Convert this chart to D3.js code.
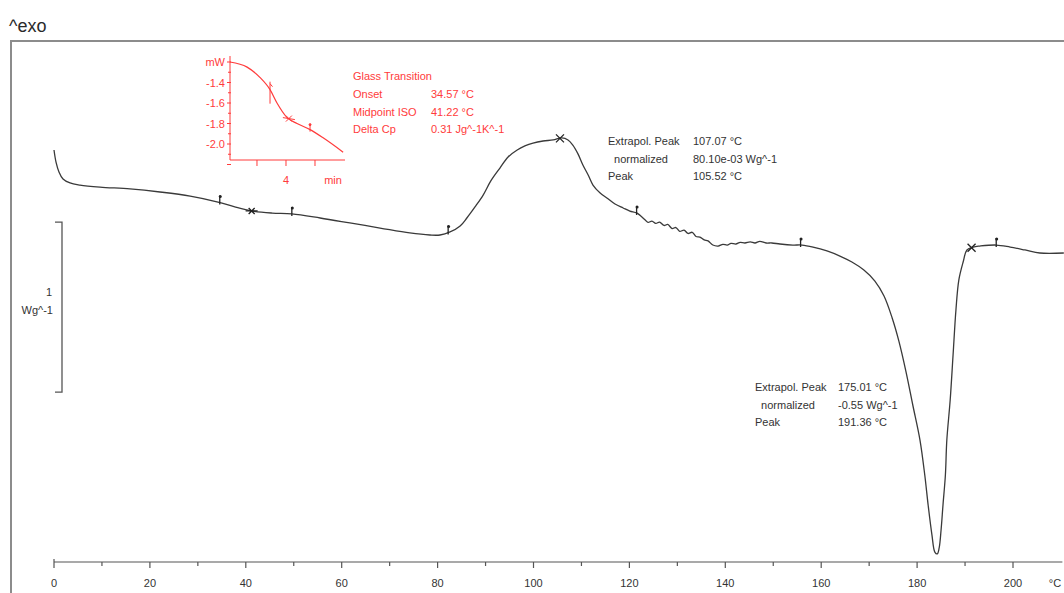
<!DOCTYPE html>
<html>
<head>
<meta charset="utf-8">
<script src="https://cdn.jsdelivr.net/npm/d3@7"></script>
<style>
  html, body { margin: 0; padding: 0; background: #fff; }
  svg { display: block; font-family: "Liberation Sans", Arial, sans-serif; }
</style>
</head>
<body>
<svg id="chart" width="1064" height="593"></svg>
<script>
// DSC heating curve: temperature (°C) vs normalized heat flow (W/g), exo up
const tempC = [0, 0.42, 1.04, 1.88, 3.34, 5.42, 9.59, 15.85, 22.1, 28.4, 34.2, 37.7, 41.3, 45.5, 49.6,
  55.5, 61.7, 68.0, 74.2, 78.4, 80.5, 82.6, 84.7, 86.1, 87.8, 89.5, 91.1, 93.0, 94.7, 96.6, 98.2,
  99.9, 102.0, 104.1, 105.9, 107.2, 108.2, 109.3, 110.3, 111.4, 112.4, 113.9, 115.3, 117.0, 118.7,
  120.1, 121.6, 123.3, 123.9, 124.7, 125.5, 126.3, 127.2, 128.0, 128.9, 129.7, 130.5, 131.4, 132.2,
  133.1, 133.9, 134.7, 135.6, 136.4, 137.4, 138.5, 139.5, 140.4, 141.2, 142.2, 143.1, 144.1, 145.2,
  146.2, 147.2, 148.5, 149.7, 151.4, 154.1, 156.0, 158.3, 161.2, 163.9, 166.4, 168.9, 171.2, 173.1,
  174.8, 176.2, 177.7, 179.1, 180.6, 181.6, 182.3, 183.1, 183.7, 184.2, 184.6, 185.0, 185.4, 185.9,
  186.2, 186.9, 187.5, 188.1, 188.7, 189.6, 190.4, 191.7, 193.1, 196.5, 199.4, 202.5, 205.6, 210.6];
const heatFlow = [0, -0.071, -0.129, -0.171, -0.194, -0.206, -0.218, -0.229, -0.247, -0.271, -0.306, -0.335, -0.359, -0.371, -0.376,
  -0.400, -0.429, -0.459, -0.488, -0.500, -0.500, -0.482, -0.447, -0.400, -0.335, -0.265, -0.182, -0.106, -0.041, 0, 0.024,
  0.041, 0.053, 0.059, 0.071, 0.059, 0.029, -0.024, -0.088, -0.147, -0.206, -0.253, -0.282, -0.318, -0.341,
  -0.359, -0.371, -0.412, -0.426, -0.418, -0.432, -0.424, -0.444, -0.438, -0.462, -0.456, -0.479, -0.471, -0.491,
  -0.484, -0.509, -0.512, -0.529, -0.535, -0.559, -0.565, -0.555, -0.559, -0.549, -0.553, -0.543, -0.547, -0.541,
  -0.547, -0.537, -0.547, -0.547, -0.553, -0.559, -0.559, -0.571, -0.594, -0.624, -0.659, -0.706, -0.771, -0.859,
  -0.988, -1.124, -1.306, -1.500, -1.706, -1.912, -2.088, -2.265, -2.365, -2.376, -2.341, -2.235, -2.088, -1.912,
  -1.706, -1.471, -1.206, -0.941, -0.765, -0.659, -0.588, -0.571, -0.565, -0.559, -0.571, -0.588, -0.606, -0.606];

// Evaluation limit flags and peak crosses on the main curve (°C)
const flagTemps = [34.57, 49.6, 82.2, 121.5, 155.7, 196.5];
const crossTemps = [41.22, 105.52, 191.36];

// Temperature axis
const xTickValues = d3.range(0, 210, 10);
const xTickLabels = [0, 20, 40, 60, 80, 100, 120, 140, 160, 180, 200];

// Glass transition inset: time (min) vs heat flow (mW)
const insetTime = [2.07, 2.66, 3.10, 3.45, 3.69, 4.03, 4.38, 4.83, 5.28, 5.97];
const insetFlow = [-1.20, -1.25, -1.35, -1.47, -1.60, -1.74, -1.80, -1.86, -1.94, -2.08];
const insetYTicks = [-1.4, -1.6, -1.8, -2.0];
const insetXTicks = [3, 4, 5];
const insetOnset = 3.45, insetMid = 4.1, insetEnd = 4.83;

// Result tables
const glassRows = [["Onset", "34.57 °C"], ["Midpoint ISO", "41.22 °C"], ["Delta Cp", "0.31 Jg^-1K^-1"]];
const peak1Rows = [["Extrapol. Peak", "107.07 °C"], ["  normalized", "80.10e-03 Wg^-1"], ["Peak", "105.52 °C"]];
const peak2Rows = [["Extrapol. Peak", "175.01 °C"], ["  normalized", "-0.55 Wg^-1"], ["Peak", "191.36 °C"]];

const svg = d3.select("#chart");
const ink = "#3a3a3a";
const red = "#ff3b3b";

const x = d3.scaleLinear().domain([0, 200]).range([54, 1013]);
// 1 W/g spans 170 px
const y = d3.scaleLinear().domain([0, -1]).range([150, 320]);

// Frame
svg.append("path")
  .attr("d", "M11,593 V41 H1064")
  .attr("fill", "none").attr("stroke", "#8c8c8c").attr("stroke-width", 2);

svg.append("text").attr("x", 9).attr("y", 32)
  .attr("font-size", 18).attr("fill", "#2a2a2a").text("^exo");

// Temperature axis
const axisY = 562;
const axis = svg.append("g").attr("transform", `translate(0,${axisY})`);
axis.append("line").attr("x1", x(0)).attr("x2", x(210.3))
  .attr("stroke", "#555").attr("stroke-width", 1.2);
axis.selectAll("line.tick").data(xTickValues).join("line")
  .attr("class", "tick")
  .attr("x1", d => x(d)).attr("x2", d => x(d))
  .attr("y1", d => d === 0 ? -3 : 0).attr("y2", d => d % 20 === 0 ? 6 : 4)
  .attr("stroke", "#555").attr("stroke-width", 1.2);
axis.selectAll("text.lbl").data(xTickLabels).join("text")
  .attr("class", "lbl")
  .attr("x", d => x(d)).attr("y", 25)
  .attr("text-anchor", "middle").attr("font-size", 11).attr("fill", "#333")
  .text(d => d);
axis.append("text").attr("x", 1055).attr("y", 25)
  .attr("text-anchor", "middle").attr("font-size", 11).attr("fill", "#333").text("°C");

// Scale bar: 1 W/g
const barTop = y(-0.424), barBot = y(-1.424);
svg.append("path")
  .attr("d", `M55,${barTop} H62 V${barBot} H55`)
  .attr("fill", "none").attr("stroke", "#555").attr("stroke-width", 1.3);
svg.append("text").attr("x", 52).attr("y", 296).attr("text-anchor", "end")
  .attr("font-size", 11).attr("fill", "#333").text("1");
svg.append("text").attr("x", 53).attr("y", 314).attr("text-anchor", "end")
  .attr("font-size", 11).attr("fill", "#333").text("Wg^-1");

// Main curve
const pts = tempC.map((t, i) => [t, heatFlow[i]]);
svg.append("path")
  .datum(pts)
  .attr("fill", "none").attr("stroke", ink).attr("stroke-width", 1.3)
  .attr("d", d3.line().x(d => x(d[0])).y(d => y(d[1])).curve(d3.curveCatmullRom.alpha(0.5)));

const flowAt = t => {
  const i = d3.bisectLeft(tempC, t);
  if (i <= 0) return heatFlow[0];
  if (i >= tempC.length) return heatFlow[heatFlow.length - 1];
  const f = (t - tempC[i - 1]) / (tempC[i] - tempC[i - 1]);
  return heatFlow[i - 1] + f * (heatFlow[i] - heatFlow[i - 1]);
};

const marks = svg.append("g").attr("stroke", "#222").attr("stroke-width", 1.3).attr("fill", "#222");
flagTemps.forEach(t => {
  const px = x(t), py = y(flowAt(t));
  marks.append("line").attr("x1", px).attr("x2", px).attr("y1", py + 2).attr("y2", py - 7);
  marks.append("circle").attr("cx", px + 0.5).attr("cy", py - 6).attr("r", 1.5).attr("stroke", "none");
});
crossTemps.forEach((t, i) => {
  const px = x(t), py = y(flowAt(t));
  const s = i === 0 ? 3 : 4;
  marks.append("path")
    .attr("d", `M${px - s},${py - s}L${px + s},${py + s}M${px - s},${py + s}L${px + s},${py - s}` +
      (i === 0 ? `M${px - 6},${py}H${px + 6}` : ""))
    .attr("fill", "none");
});

// Result tables
function table(rows, x0, x1, y0, color, title) {
  const g = svg.append("g").attr("font-size", 11).attr("fill", color);
  let yy = y0;
  if (title) {
    g.append("text").attr("x", x0).attr("y", yy).text(title);
    yy += 18;
  }
  rows.forEach(r => {
    g.append("text").attr("x", x0).attr("y", yy).attr("xml:space", "preserve").text(r[0]);
    g.append("text").attr("x", x1).attr("y", yy).text(r[1]);
    yy += 17.5;
  });
}
table(peak1Rows, 608, 693, 145, "#333");
table(peak2Rows, 755, 838, 391, "#333");
table(glassRows, 353, 431, 80, red, "Glass Transition");

// Glass transition inset
const ix = d3.scaleLinear().domain([2.07, 6.0]).range([230, 344]);
const iy = d3.scaleLinear().domain([-1.2, -2.0]).range([62, 144]);
const inset = svg.append("g").attr("stroke", red).attr("fill", "none").attr("stroke-width", 1);
inset.append("path").attr("d", `M230,56 V160 H345`);
d3.range(-1.2, -2.21, -0.1).forEach((v, i) => {
  const w = i % 2 === 0 ? 3 : 2;
  inset.append("line").attr("x1", 230 - w).attr("x2", 230 + 1).attr("y1", iy(v)).attr("y2", iy(v));
});
insetXTicks.forEach(t => {
  inset.append("line").attr("x1", ix(t)).attr("x2", ix(t)).attr("y1", 160).attr("y2", 166);
});
const il = svg.append("g").attr("fill", red).attr("font-size", 11);
il.append("text").attr("x", 225).attr("y", iy(-1.2) + 4).attr("text-anchor", "end").text("mW");
insetYTicks.forEach(v => {
  il.append("text").attr("x", 225).attr("y", iy(v) + 4).attr("text-anchor", "end").text(v.toFixed(1));
});
il.append("text").attr("x", ix(4)).attr("y", 184).attr("text-anchor", "middle").text("4");
il.append("text").attr("x", 333).attr("y", 184).attr("text-anchor", "middle").text("min");

const ipts = insetTime.map((t, i) => [t, insetFlow[i]]);
inset.append("path").datum(ipts).attr("stroke-width", 1.2)
  .attr("d", d3.line().x(d => ix(d[0])).y(d => iy(d[1])).curve(d3.curveMonotoneX));
const iflow = t => {
  const i = Math.max(1, d3.bisectLeft(insetTime, t));
  const f = (t - insetTime[i - 1]) / (insetTime[i] - insetTime[i - 1]);
  return insetFlow[i - 1] + f * (insetFlow[i] - insetFlow[i - 1]);
};
{
  const px = ix(insetOnset), py = iy(iflow(insetOnset));
  inset.append("line").attr("x1", px).attr("x2", px).attr("y1", py - 8).attr("y2", py + 14);
  inset.append("line").attr("x1", px).attr("x2", px + 2.5).attr("y1", py - 6).attr("y2", py - 3);
}
{
  const px = ix(insetMid), py = iy(iflow(insetMid));
  inset.append("path").attr("d", `M${px - 3},${py - 3}L${px + 3},${py + 3}M${px - 3},${py + 3}L${px + 3},${py - 3}M${px - 6},${py - 1}L${px + 6},${py + 1}`);
}
{
  const px = ix(insetEnd), py = iy(iflow(insetEnd));
  inset.append("line").attr("x1", px).attr("x2", px).attr("y1", py - 6).attr("y2", py + 2);
  inset.append("circle").attr("cx", px).attr("cy", py - 5).attr("r", 1).attr("fill", red);
}
</script>
</body>
</html>
